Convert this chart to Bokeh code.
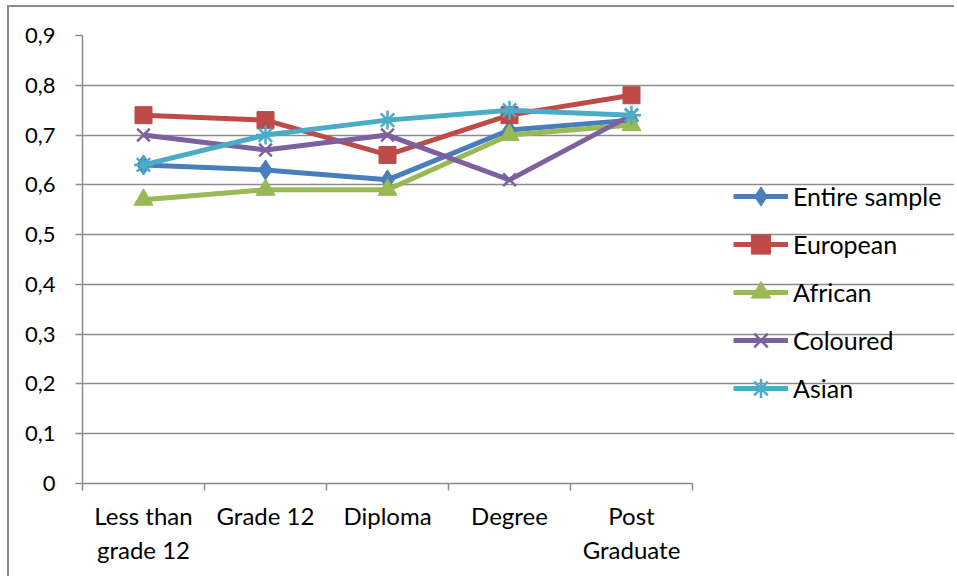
from bokeh.plotting import figure
from bokeh.models import Range1d, FixedTicker, Legend, LegendItem
from bokeh.embed import file_html
from bokeh.resources import INLINE

# ---- data ----
categories = ["Less than\ngrade 12", "Grade 12", "Diploma", "Degree", "Post\nGraduate"]
entire_sample = [0.64, 0.63, 0.61, 0.71, 0.73]
european = [0.74, 0.73, 0.66, 0.74, 0.78]
african = [0.57, 0.59, 0.59, 0.70, 0.72]
coloured = [0.70, 0.67, 0.70, 0.61, 0.74]
asian = [0.64, 0.70, 0.73, 0.75, 0.74]
series_names = ["Entire sample", "European", "African", "Coloured", "Asian"]
y_ticks = [i / 10 for i in range(10)]
y_labels = ["0", "0,1", "0,2", "0,3", "0,4", "0,5", "0,6", "0,7", "0,8", "0,9"]

FONT = "Lato"
GRID = "#8c8c8c"

n = len(categories)
x_pos = [i + 0.5 for i in range(n)]

# layout (pixels)
W, H = 947, 571
LEFT, TOP, BOTTOM = 73, 28, 95
PLOT_W = 610                      # width of the category area
frame_w = W - LEFT
x_end = n * frame_w / PLOT_W      # frame extends to the right for the legend

p = figure(width=W, height=H, output_backend="svg", toolbar_location=None,
           x_range=Range1d(0, x_end), y_range=Range1d(0, 0.9),
           min_border_left=LEFT, min_border_top=TOP, min_border_right=0, min_border_bottom=BOTTOM)
p.styles = {"margin-left": "7px", "margin-top": "5px",
            "border-left": "2px solid #8c8c8c", "border-top": "2px solid #8c8c8c"}
p.outline_line_color = None
p.background_fill_color = "white"

# axes
p.xaxis.ticker = FixedTicker(ticks=x_pos, minor_ticks=list(range(n + 1)))
p.xaxis.bounds = (0, n)
p.xaxis.major_label_overrides = {x: c for x, c in zip(x_pos, categories)}
p.xaxis.major_tick_out = 0
p.xaxis.major_tick_in = 0
p.xaxis.minor_tick_out = 7
p.xaxis.minor_tick_in = 0
p.xaxis.minor_tick_line_color = GRID
p.xaxis.minor_tick_line_width = 1.5
p.xaxis.axis_line_color = GRID
p.xaxis.axis_line_width = 1.5
p.xaxis.major_label_text_font = FONT
p.xaxis.major_label_text_font_size = "24px"
p.xaxis.major_label_text_color = "#000000"
p.xaxis.major_label_standoff = 10

p.yaxis.ticker = FixedTicker(ticks=y_ticks, minor_ticks=[])
p.yaxis.major_label_overrides = {t: l for t, l in zip(y_ticks, y_labels)}
p.yaxis.major_tick_out = 7
p.yaxis.major_tick_in = 0
p.yaxis.major_tick_line_color = GRID
p.yaxis.major_tick_line_width = 1.5
p.yaxis.minor_tick_line_color = None
p.yaxis.axis_line_color = GRID
p.yaxis.axis_line_width = 1.5
p.yaxis.major_label_text_font = FONT
p.yaxis.major_label_text_font_size = "22px"
p.yaxis.major_label_text_color = "#000000"
p.yaxis.major_label_standoff = 20

p.xgrid.grid_line_color = None
p.ygrid.ticker = FixedTicker(ticks=y_ticks)
p.ygrid.bounds = (0, n)
p.ygrid.grid_line_color = GRID
p.ygrid.grid_line_width = 1.5

colors = ["#4a7ebb", "#be4b48", "#98b954", "#7d60a0", "#4aacc6"]
markers = ["diamond", "square", "triangle", "x", "asterisk"]
sizes = [20, 17, 19, 18, 19]
values = [entire_sample, european, african, coloured, asian]

items = []
for name, vals, col, mk, sz in zip(series_names, values, colors, markers, sizes):
    ln = p.line(x_pos, vals, line_color=col, line_width=5, line_join="round")
    if mk in ("x", "asterisk"):
        sc = p.scatter(x_pos, vals, marker=mk, size=sz, line_color=col, line_width=2.5)
    else:
        sc = p.scatter(x_pos, vals, marker=mk, size=sz, fill_color=col, line_color=col, line_width=1)
    items.append(LegendItem(label=name, renderers=[ln, sc]))

legend = Legend(items=items, location=(651, 71), glyph_width=55, glyph_height=48,
                label_height=48, spacing=0, padding=0, margin=0, label_standoff=5,
                border_line_alpha=0, background_fill_alpha=0,
                label_text_font=FONT, label_text_font_size="25px", label_text_color="#000000")
p.add_layout(legend, "center")

open("out.html", "w").write(file_html(p, INLINE))
